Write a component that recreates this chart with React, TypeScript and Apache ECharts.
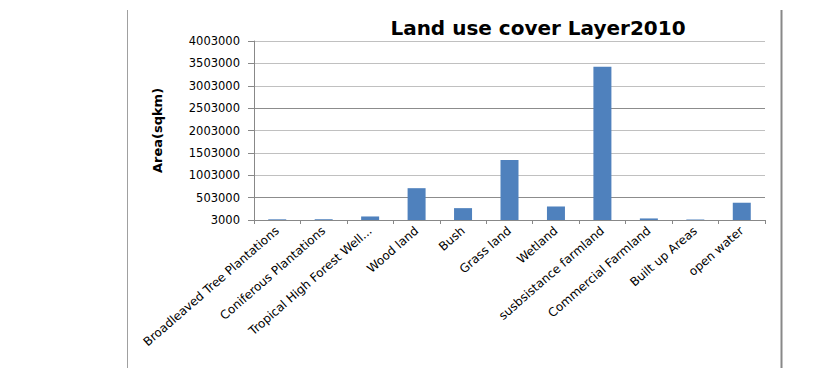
import React, { useEffect, useRef } from "react";
import * as echarts from "echarts";

const categories = [
  "Broadleaved Tree Plantations",
  "Coniferous Plantations",
  "Tropical High Forest Well...",
  "Wood land",
  "Bush",
  "Grass land",
  "Wetland",
  "susbsistance farmland",
  "Commercial Farmland",
  "Built up Areas",
  "open water",
];

const areaValues = [18000, 20000, 82000, 714000, 268000, 1342000, 305000, 3430000, 38000, 14000, 389000];

const tickLabels = ["3000", "503000", "1003000", "1503000", "2003000", "2503000", "3003000", "3503000", "4003000"];

const FONT = "DejaVu Sans";

export default function App() {
  const ref = useRef<HTMLDivElement>(null);
  useEffect(() => {
    if (!ref.current) return;
    const chart = echarts.init(ref.current, undefined, { renderer: "svg" });
    chart.setOption({
      animation: false,
      backgroundColor: "#ffffff",
      title: {
        text: "Land use cover Layer2010",
        left: 533,
        textAlign: "center",
        top: 13,
        textStyle: { fontFamily: FONT, fontWeight: "bold", fontSize: 20, color: "#000" },
      },
      grid: { left: 254, right: 50, top: 41, bottom: 148, containLabel: false },
      xAxis: {
        type: "category",
        data: categories,
        axisLine: { lineStyle: { color: "#888", width: 1 } },
        axisTick: { show: true, length: 4, lineStyle: { color: "#888" } },
        axisLabel: {
          interval: 0,
          rotate: 41,
          fontFamily: FONT,
          fontSize: 12,
          color: "#000",
          margin: 9,
        },
      },
      yAxis: [
        {
          type: "value",
          min: 3000,
          max: 4003000,
          name: "Area(sqkm)",
          nameLocation: "middle",
          nameRotate: 90,
          nameGap: 90,
          nameTextStyle: { fontFamily: FONT, fontWeight: "bold", fontSize: 13, color: "#000" },
          axisLabel: { show: false },
          axisTick: { show: false },
          axisLine: { show: false },
          splitLine: { show: false },
        },
        {
          type: "category",
          data: tickLabels,
          boundaryGap: false,
          position: "left",
          axisLine: { show: true, lineStyle: { color: "#888" } },
          axisTick: { show: true, length: 6, interval: 0, lineStyle: { color: "#888" } },
          axisLabel: { interval: 0, fontFamily: FONT, fontSize: 11.5, color: "#000", margin: 14 },
          splitLine: {
            show: true,
            interval: 0,
            lineStyle: { color: ["#c0c0c0", "#8c8c8c", "#c0c0c0", "#c0c0c0"], width: 1 },
          },
        },
      ],
      series: [
        {
          type: "bar",
          yAxisIndex: 0,
          data: areaValues,
          barWidth: 18,
          itemStyle: { color: "#4f81bd" },
        },
      ],
      graphic: [
        {
          type: "line",
          shape: { x1: 127.5, y1: 10, x2: 127.5, y2: 368 },
          style: { stroke: "#a0a0a0", lineWidth: 1 },
        },
        {
          type: "line",
          shape: { x1: 781.5, y1: 10, x2: 781.5, y2: 368 },
          style: { stroke: "#888888", lineWidth: 2 },
        },
      ],
    });
    return () => chart.dispose();
  }, []);
  return (
    <div
      ref={ref}
      style={{ position: "fixed", left: 0, top: 0, width: 815, height: 368 }}
    />
  );
}
